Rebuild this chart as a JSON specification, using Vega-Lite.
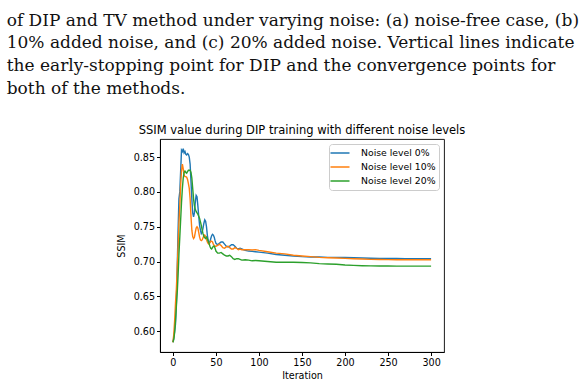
{
  "$schema": "https://vega.github.io/schema/vega-lite/v6.json",
  "padding": {"left": 6, "top": 11, "right": 5, "bottom": 5},
  "title": {
    "text": [
      "of DIP and TV method under varying noise: (a) noise-free case, (b)",
      "10% added noise, and (c) 20% added noise. Vertical lines indicate",
      "the early-stopping point for DIP and the convergence points for",
      "both of the methods."
    ],
    "anchor": "start",
    "frame": "bounds",
    "font": "DejaVu Serif",
    "fontSize": 17,
    "fontWeight": "normal",
    "lineHeight": 22.8,
    "color": "#111111",
    "offset": 26,
    "dx": -109
  },
  "config": {
    "view": {"stroke": "#000000", "strokeWidth": 0.9},
    "axis": {
      "labelFont": "DejaVu Sans",
      "labelFontSize": 9.6,
      "labelColor": "#000000",
      "titleFont": "DejaVu Sans",
      "titleFontSize": 9.6,
      "titleFontWeight": "normal",
      "titleColor": "#000000",
      "tickColor": "#000000",
      "domainColor": "#000000",
      "grid": false,
      "tickSize": 3.5,
      "labelPadding": 2
    },
    "legend": {
      "orient": "top-right",
      "offset": 5,
      "labelFont": "DejaVu Sans",
      "labelFontSize": 9.3,
      "labelColor": "#000000",
      "symbolType": "M-1.9,0H1.9",
      "symbolSize": 100,
      "symbolStrokeWidth": 1.5,
      "symbolOffset": 2,
      "strokeColor": "#cccccc",
      "fillColor": "#ffffff",
      "cornerRadius": 3,
      "padding": 3,
      "rowPadding": 2,
      "labelOffset": 15
    }
  },
  "vconcat": [
    {
      "width": 284,
      "height": 213,
      "title": {
        "text": "SSIM value during DIP training with different noise levels",
        "font": "DejaVu Sans",
        "fontSize": 11.5,
        "fontWeight": "normal",
        "color": "#000000",
        "anchor": "middle",
        "offset": 3
      },
      "data": {
        "values": [
          {"iteration": 0, "n0": 0.584, "n10": 0.584, "n20": 0.584},
          {"iteration": 1, "n0": 0.590, "n10": 0.595, "n20": 0.588},
          {"iteration": 2, "n0": 0.600, "n10": 0.615, "n20": 0.598},
          {"iteration": 3, "n0": 0.610, "n10": 0.640, "n20": 0.615},
          {"iteration": 4, "n0": 0.640, "n10": 0.660, "n20": 0.635},
          {"iteration": 5, "n0": 0.690, "n10": 0.690, "n20": 0.655},
          {"iteration": 6, "n0": 0.745, "n10": 0.720, "n20": 0.680},
          {"iteration": 7, "n0": 0.790, "n10": 0.755, "n20": 0.710},
          {"iteration": 8, "n0": 0.800, "n10": 0.780, "n20": 0.735},
          {"iteration": 9, "n0": 0.830, "n10": 0.810, "n20": 0.760},
          {"iteration": 10, "n0": 0.860, "n10": 0.830, "n20": 0.785},
          {"iteration": 11, "n0": 0.858, "n10": 0.840, "n20": 0.805},
          {"iteration": 12, "n0": 0.862, "n10": 0.833, "n20": 0.820},
          {"iteration": 13, "n0": 0.856, "n10": 0.824, "n20": 0.828},
          {"iteration": 14, "n0": 0.858, "n10": 0.822, "n20": 0.830},
          {"iteration": 15, "n0": 0.854, "n10": 0.822, "n20": 0.828},
          {"iteration": 16, "n0": 0.853, "n10": 0.821, "n20": 0.827},
          {"iteration": 17, "n0": 0.855, "n10": 0.818, "n20": 0.829},
          {"iteration": 18, "n0": 0.854, "n10": 0.812, "n20": 0.831},
          {"iteration": 19, "n0": 0.850, "n10": 0.805, "n20": 0.831},
          {"iteration": 20, "n0": 0.840, "n10": 0.790, "n20": 0.831},
          {"iteration": 21, "n0": 0.815, "n10": 0.765, "n20": 0.828},
          {"iteration": 22, "n0": 0.790, "n10": 0.745, "n20": 0.820},
          {"iteration": 23, "n0": 0.770, "n10": 0.736, "n20": 0.805},
          {"iteration": 24, "n0": 0.764, "n10": 0.733, "n20": 0.790},
          {"iteration": 25, "n0": 0.770, "n10": 0.735, "n20": 0.780},
          {"iteration": 26, "n0": 0.785, "n10": 0.742, "n20": 0.775},
          {"iteration": 27, "n0": 0.795, "n10": 0.748, "n20": 0.772},
          {"iteration": 28, "n0": 0.793, "n10": 0.750, "n20": 0.770},
          {"iteration": 29, "n0": 0.780, "n10": 0.748, "n20": 0.768},
          {"iteration": 30, "n0": 0.765, "n10": 0.742, "n20": 0.765},
          {"iteration": 31, "n0": 0.752, "n10": 0.735, "n20": 0.762},
          {"iteration": 32, "n0": 0.745, "n10": 0.731, "n20": 0.757},
          {"iteration": 33, "n0": 0.740, "n10": 0.730, "n20": 0.752},
          {"iteration": 34, "n0": 0.742, "n10": 0.731, "n20": 0.745},
          {"iteration": 35, "n0": 0.748, "n10": 0.734, "n20": 0.740},
          {"iteration": 36, "n0": 0.755, "n10": 0.737, "n20": 0.736},
          {"iteration": 37, "n0": 0.760, "n10": 0.738, "n20": 0.734},
          {"iteration": 38, "n0": 0.758, "n10": 0.736, "n20": 0.733},
          {"iteration": 39, "n0": 0.750, "n10": 0.732, "n20": 0.735},
          {"iteration": 40, "n0": 0.738, "n10": 0.728, "n20": 0.733},
          {"iteration": 41, "n0": 0.730, "n10": 0.726, "n20": 0.729},
          {"iteration": 42, "n0": 0.727, "n10": 0.725, "n20": 0.726},
          {"iteration": 43, "n0": 0.728, "n10": 0.727, "n20": 0.722},
          {"iteration": 44, "n0": 0.733, "n10": 0.729, "n20": 0.719},
          {"iteration": 45, "n0": 0.737, "n10": 0.729, "n20": 0.718},
          {"iteration": 46, "n0": 0.739, "n10": 0.728, "n20": 0.720},
          {"iteration": 47, "n0": 0.738, "n10": 0.725, "n20": 0.722},
          {"iteration": 48, "n0": 0.735, "n10": 0.723, "n20": 0.722},
          {"iteration": 49, "n0": 0.730, "n10": 0.722, "n20": 0.719},
          {"iteration": 50, "n0": 0.726, "n10": 0.722, "n20": 0.715},
          {"iteration": 52, "n0": 0.724, "n10": 0.723, "n20": 0.712},
          {"iteration": 54, "n0": 0.726, "n10": 0.725, "n20": 0.712},
          {"iteration": 56, "n0": 0.728, "n10": 0.723, "n20": 0.713},
          {"iteration": 58, "n0": 0.728, "n10": 0.720, "n20": 0.711},
          {"iteration": 60, "n0": 0.725, "n10": 0.719, "n20": 0.709},
          {"iteration": 62, "n0": 0.722, "n10": 0.721, "n20": 0.708},
          {"iteration": 64, "n0": 0.721, "n10": 0.722, "n20": 0.708},
          {"iteration": 66, "n0": 0.722, "n10": 0.720, "n20": 0.709},
          {"iteration": 68, "n0": 0.724, "n10": 0.718, "n20": 0.707},
          {"iteration": 70, "n0": 0.724, "n10": 0.718, "n20": 0.704},
          {"iteration": 72, "n0": 0.722, "n10": 0.720, "n20": 0.703},
          {"iteration": 74, "n0": 0.719, "n10": 0.719, "n20": 0.704},
          {"iteration": 76, "n0": 0.718, "n10": 0.717, "n20": 0.704},
          {"iteration": 78, "n0": 0.719, "n10": 0.718, "n20": 0.703},
          {"iteration": 80, "n0": 0.718, "n10": 0.717, "n20": 0.702},
          {"iteration": 84, "n0": 0.716, "n10": 0.717, "n20": 0.7025},
          {"iteration": 88, "n0": 0.715, "n10": 0.717, "n20": 0.702},
          {"iteration": 92, "n0": 0.7145, "n10": 0.7165, "n20": 0.701},
          {"iteration": 96, "n0": 0.714, "n10": 0.717, "n20": 0.7015},
          {"iteration": 100, "n0": 0.7135, "n10": 0.716, "n20": 0.701},
          {"iteration": 110, "n0": 0.712, "n10": 0.714, "n20": 0.700},
          {"iteration": 120, "n0": 0.710, "n10": 0.712, "n20": 0.699},
          {"iteration": 130, "n0": 0.709, "n10": 0.711, "n20": 0.699},
          {"iteration": 140, "n0": 0.708, "n10": 0.709, "n20": 0.699},
          {"iteration": 150, "n0": 0.707, "n10": 0.708, "n20": 0.6985},
          {"iteration": 160, "n0": 0.7065, "n10": 0.707, "n20": 0.698},
          {"iteration": 170, "n0": 0.7065, "n10": 0.706, "n20": 0.697},
          {"iteration": 180, "n0": 0.706, "n10": 0.7055, "n20": 0.6965},
          {"iteration": 190, "n0": 0.706, "n10": 0.705, "n20": 0.696},
          {"iteration": 200, "n0": 0.706, "n10": 0.7045, "n20": 0.695},
          {"iteration": 210, "n0": 0.7055, "n10": 0.704, "n20": 0.6945},
          {"iteration": 220, "n0": 0.705, "n10": 0.7035, "n20": 0.694},
          {"iteration": 230, "n0": 0.7047, "n10": 0.703, "n20": 0.6937},
          {"iteration": 240, "n0": 0.7045, "n10": 0.7028, "n20": 0.6935},
          {"iteration": 250, "n0": 0.7044, "n10": 0.7027, "n20": 0.6935},
          {"iteration": 260, "n0": 0.7043, "n10": 0.7026, "n20": 0.6934},
          {"iteration": 270, "n0": 0.7042, "n10": 0.7026, "n20": 0.6934},
          {"iteration": 280, "n0": 0.7042, "n10": 0.7026, "n20": 0.6934},
          {"iteration": 290, "n0": 0.7042, "n10": 0.7026, "n20": 0.6934},
          {"iteration": 300, "n0": 0.7042, "n10": 0.7026, "n20": 0.6934}
        ]
      },
      "transform": [
        {"fold": ["n0", "n10", "n20"], "as": ["key", "ssim"]},
        {"lookup": "key", "from": {"data": {"values": [
          {"key": "n0", "series": "Noise level 0%"},
          {"key": "n10", "series": "Noise level 10%"},
          {"key": "n20", "series": "Noise level 20%"}
        ]}, "key": "key", "fields": ["series"]}}
      ],
      "mark": {"type": "line", "strokeWidth": 1.4, "clip": true},
      "encoding": {
        "x": {
          "field": "iteration",
          "type": "quantitative",
          "scale": {"domain": [-15, 315], "nice": false, "zero": false},
          "axis": {"values": [0, 50, 100, 150, 200, 250, 300], "title": "Iteration", "titlePadding": 3}
        },
        "y": {
          "field": "ssim",
          "type": "quantitative",
          "scale": {"domain": [0.570, 0.876], "nice": false, "zero": false},
          "axis": {"values": [0.60, 0.65, 0.70, 0.75, 0.80, 0.85], "format": ".2f", "title": "SSIM", "titlePadding": 7}
        },
        "color": {
          "field": "series",
          "type": "nominal",
          "scale": {
            "domain": ["Noise level 0%", "Noise level 10%", "Noise level 20%"],
            "range": ["#1f77b4", "#ff7f0e", "#2ca02c"]
          },
          "legend": {"title": null}
        }
      }
    }
  ]
}
